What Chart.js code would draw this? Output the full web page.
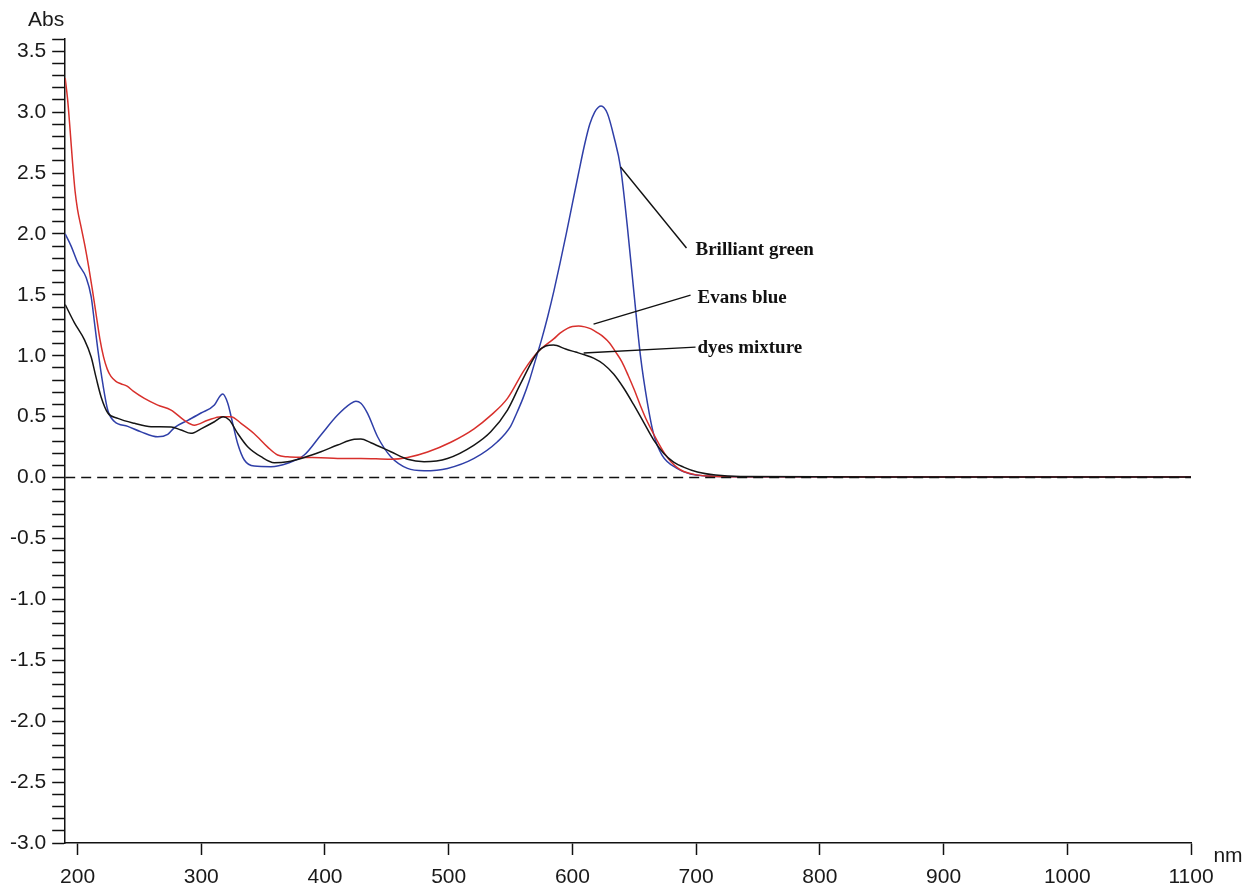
<!DOCTYPE html>
<html>
<head>
<meta charset="utf-8">
<script src="https://cdn.jsdelivr.net/npm/chart.js@4.4.1/dist/chart.umd.min.js"></script>
<style>
html,body{margin:0;padding:0;background:#fff;}
#wrap{width:1247px;height:884px;position:relative;}
</style>
</head>
<body>
<div id="wrap"><canvas id="c"></canvas></div>
<script>
// ---------- data ----------
const xTickValues = [200, 300, 400, 500, 600, 700, 800, 900, 1000, 1100];
const yTickLabels = ['-3.0','-2.5','-2.0','-1.5','-1.0','-0.5','0.0','0.5','1.0','1.5','2.0','2.5','3.0','3.5'];

// Brilliant green (blue curve)
const bgNm  = [190, 194.8, 200.3, 207, 211, 213.7, 216.4, 220.4, 224.5, 229.8, 240.6, 251.4, 264.8, 272.9, 278.3, 289.1, 299.8, 310.6, 315.2, 317.3, 321.4, 325.4, 329.4, 334.8, 342.8, 356.3, 369.8, 383.2, 396.7, 410.2, 421, 425, 429, 434.4, 442.5, 453.2, 466.7, 480.1, 499, 520.5, 539.4, 550, 555, 560, 565, 570, 575, 580, 585, 590, 595, 600, 605, 610, 614, 618, 621, 623.2, 628.2, 633.5, 639, 644.3, 649.7, 655.1, 660.5, 665.8, 672.4, 684.5, 695.4, 722, 760, 800, 900, 1000, 1100];
const bgAbs = [2.00, 1.90, 1.76, 1.64, 1.485, 1.27, 1.05, 0.77, 0.55, 0.46, 0.42, 0.375, 0.335, 0.355, 0.41, 0.47, 0.53, 0.595, 0.67, 0.685, 0.61, 0.445, 0.28, 0.144, 0.094, 0.089, 0.117, 0.185, 0.35, 0.513, 0.609, 0.627, 0.61, 0.527, 0.335, 0.171, 0.075, 0.056, 0.075, 0.157, 0.294, 0.42, 0.53, 0.65, 0.79, 0.96, 1.13, 1.32, 1.53, 1.76, 2.00, 2.25, 2.50, 2.74, 2.90, 3.00, 3.04, 3.05, 2.99, 2.80, 2.54, 2.07, 1.52, 0.99, 0.62, 0.35, 0.185, 0.075, 0.029, 0.008, 0.006, 0.006, 0.005, 0.005, 0.005];

// Evans blue (red curve)
const ebNm  = [190, 192, 194, 196, 198, 200, 203, 206, 209, 212, 215, 218, 221, 224, 227, 231, 235, 240, 245, 254, 264.8, 275.6, 286.3, 294.4, 305.2, 316, 324, 332.1, 342.8, 353.7, 361.7, 369.8, 383.2, 396.7, 410.2, 429, 453.2, 466.7, 482.9, 501.7, 520.5, 534, 547.5, 560.9, 572, 585.1, 590, 596, 600, 605, 610, 615, 620, 625, 630, 635, 640, 645, 650, 655, 660, 665, 670, 675, 680, 685, 690, 700, 710, 722, 760, 800, 900, 1000, 1100];
const ebAbs = [3.28, 3.10, 2.85, 2.58, 2.35, 2.20, 2.05, 1.90, 1.73, 1.54, 1.34, 1.14, 0.99, 0.89, 0.83, 0.79, 0.77, 0.75, 0.71, 0.65, 0.595, 0.554, 0.47, 0.43, 0.47, 0.50, 0.50, 0.445, 0.36, 0.25, 0.185, 0.17, 0.165, 0.163, 0.157, 0.157, 0.15, 0.165, 0.21, 0.29, 0.40, 0.51, 0.65, 0.88, 1.03, 1.14, 1.185, 1.225, 1.24, 1.245, 1.237, 1.22, 1.19, 1.155, 1.105, 1.03, 0.95, 0.84, 0.72, 0.59, 0.47, 0.37, 0.275, 0.19, 0.125, 0.08, 0.05, 0.022, 0.012, 0.007, 0.006, 0.006, 0.005, 0.005, 0.005];

// dyes mixture (black curve)
const mixNm  = [190, 197.5, 205.6, 211, 215, 219.1, 224.5, 232.6, 246, 259.4, 275.6, 283.7, 291.7, 299.8, 310.6, 317.7, 322.7, 329.4, 337.5, 348.3, 359, 369.8, 383.2, 396.7, 410.2, 423.6, 429, 437.1, 453.2, 466.7, 480.1, 499, 520.5, 534, 547.5, 558.2, 572, 578.4, 584.8, 594.5, 602.6, 609.1, 617.1, 625.2, 633.3, 641.4, 649.4, 657.5, 665.6, 673.7, 681.8, 689.8, 701, 715.6, 735.8, 800, 900, 1000, 1100];
const mixAbs = [1.42, 1.27, 1.13, 0.99, 0.82, 0.66, 0.53, 0.486, 0.445, 0.417, 0.415, 0.39, 0.363, 0.40, 0.458, 0.50, 0.472, 0.363, 0.253, 0.171, 0.122, 0.13, 0.165, 0.212, 0.267, 0.314, 0.316, 0.286, 0.212, 0.15, 0.13, 0.157, 0.267, 0.376, 0.554, 0.773, 1.03, 1.08, 1.088, 1.055, 1.03, 1.01, 0.98, 0.93, 0.85, 0.735, 0.60, 0.455, 0.31, 0.20, 0.127, 0.086, 0.045, 0.02, 0.008, 0.006, 0.005, 0.005, 0.005];

// zero reference line
const zeroNm  = [190, 1100];
const zeroAbs = [0, 0];

// annotation leaders (data units: nm, Abs)
const noteLabels = ['Brilliant green', 'Evans blue', 'dyes mixture'];
const noteFromNm  = [638.9, 617.1, 609.1];
const noteFromAbs = [2.549, 1.260, 1.022];
const noteToNm    = [692.2, 695.5, 699.5];
const noteToAbs   = [1.884, 1.498, 1.071];
const noteTextNm  = [699.5, 701.1, 701.1];
const noteTextAbs = [1.868, 1.474, 1.063];

// ---------- chart ----------
const pts = (xs, ys) => xs.map((x, i) => ({x: x, y: ys[i]}));
const SANS = '"Liberation Sans", Arial, sans-serif';

const textPlugin = {
  id: 'texts',
  afterDatasetsDraw(chart) {
    const {ctx, chartArea, scales} = chart;
    const xs = scales.x, ys = scales.y;
    ctx.save();
    ctx.strokeStyle = '#111';
    ctx.lineWidth = 1.4;
    for (let i = 0; i < noteLabels.length; i++) {
      ctx.beginPath();
      ctx.moveTo(xs.getPixelForValue(noteFromNm[i]), ys.getPixelForValue(noteFromAbs[i]));
      ctx.lineTo(xs.getPixelForValue(noteToNm[i]), ys.getPixelForValue(noteToAbs[i]));
      ctx.stroke();
    }
    ctx.fillStyle = '#111';
    ctx.font = 'bold 19px "Liberation Serif", "Times New Roman", serif';
    ctx.textAlign = 'left';
    ctx.textBaseline = 'middle';
    for (let i = 0; i < noteLabels.length; i++) {
      ctx.fillText(noteLabels[i], xs.getPixelForValue(noteTextNm[i]), ys.getPixelForValue(noteTextAbs[i]));
    }
    ctx.font = '21px ' + SANS;
    ctx.fillStyle = '#1a1a1a';
    ctx.textAlign = 'center';
    ctx.fillText('Abs', chartArea.left - 19, chartArea.top - 19);
    ctx.fillText('nm', chartArea.right + 37, chartArea.bottom + 13);
    ctx.restore();
  }
};

new Chart(document.getElementById('c'), {
  type: 'line',
  data: {
    datasets: [
      {label: 'zero', data: pts(zeroNm, zeroAbs), borderColor: '#111', borderWidth: 1.6, borderDash: [10, 6], pointRadius: 0, tension: 0},
      {label: 'dyes mixture', data: pts(mixNm, mixAbs), borderColor: '#151515', borderWidth: 1.5, pointRadius: 0, cubicInterpolationMode: 'monotone'},
      {label: 'Evans blue', data: pts(ebNm, ebAbs), borderColor: '#d8302c', borderWidth: 1.5, pointRadius: 0, cubicInterpolationMode: 'monotone'},
      {label: 'Brilliant green', data: pts(bgNm, bgAbs), borderColor: '#2f3fa8', borderWidth: 1.5, pointRadius: 0, cubicInterpolationMode: 'monotone'}
    ]
  },
  options: {
    responsive: true,
    maintainAspectRatio: false,
    animation: false,
    events: [],
    layout: {padding: {top: 39, right: 56, bottom: -16, left: 4}},
    plugins: {legend: {display: false}, tooltip: {enabled: false}},
    scales: {
      x: {
        type: 'linear', min: 190, max: 1100,
        afterBuildTicks: (s) => { s.ticks = xTickValues.map(v => ({value: v})); },
        grid: {drawOnChartArea: false, drawTicks: true, tickLength: 12, tickColor: '#111', tickWidth: 1.5},
        border: {display: true, color: '#111', width: 1.5},
        ticks: {color: '#1a1a1a', font: {family: SANS, size: 21, lineHeight: 1}, padding: 12, maxRotation: 0, autoSkip: false,
                callback: (v) => String(v)}
      },
      y: {
        type: 'linear', min: -3, max: 3.6,
        ticks: {
          stepSize: 0.1, autoSkip: false, color: '#1a1a1a',
          font: {family: SANS, size: 21, lineHeight: 1}, padding: 6,
          callback: (v) => {
            let s = (Math.round(v * 10) / 10).toFixed(1);
            if (s === '-0.0') s = '0.0';
            return (Math.abs(v * 2 - Math.round(v * 2)) < 1e-6 && yTickLabels.includes(s)) ? s : '';
          }
        },
        grid: {drawOnChartArea: false, drawTicks: true, tickLength: 13, tickColor: '#111', tickWidth: 1.5},
        border: {display: true, color: '#111', width: 1.5}
      }
    }
  },
  plugins: [textPlugin]
});
</script>
</body>
</html>
